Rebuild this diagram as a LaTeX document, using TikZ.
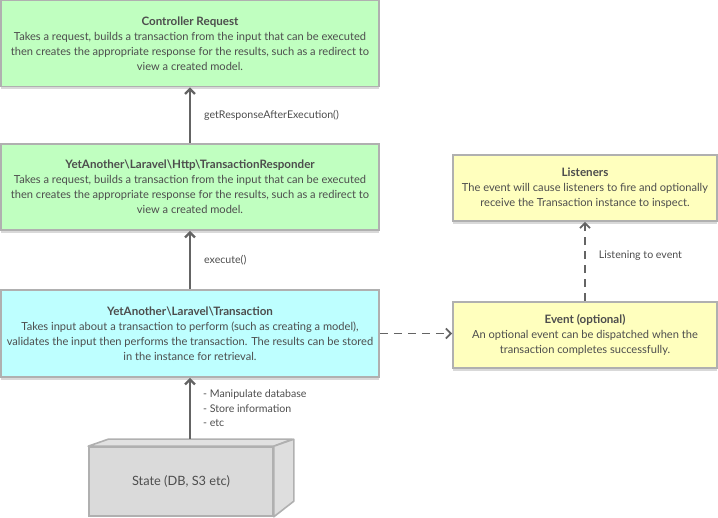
\documentclass[tikz,border=0pt]{standalone}
\usepackage{fontspec}
\setmainfont{Lato}
\usepackage{tikz}
\usetikzlibrary{arrows.meta,shadows,calc}
\definecolor{boxgreen}{RGB}{192,255,192}
\definecolor{boxcyan}{RGB}{190,255,255}
\definecolor{boxyellow}{RGB}{255,255,190}
\definecolor{boxline}{RGB}{176,176,176}
\definecolor{statefill}{RGB}{218,218,218}
\definecolor{inktext}{RGB}{77,77,77}
\definecolor{inkline}{RGB}{100,100,100}
\tikzset{
  classbox/.style={draw=boxline,line width=1.6pt,align=center,text=inktext,
    inner sep=0pt,font=\fontsize{11.1}{15}\selectfont,
    drop shadow={shadow xshift=0pt,shadow yshift=-3pt,fill=black!15,opacity=1}},
  calls/.style={->,inkline,line width=2.4pt},
  fires/.style={->,inkline,line width=1.8pt,dash pattern=on 8pt off 6pt},
  calllabel/.style={inner sep=0pt,text=inktext,font=\fontsize{10.6}{14.5}\selectfont,align=left}
}
\newcommand{\boxtitle}[1]{{\fontsize{11.6}{17.5}\selectfont\bfseries #1}}
\newcommand{\bs}{\textbackslash}

\begin{document}
\begin{tikzpicture}[x=1pt,y=-1pt,>={Straight Barb[length=5pt,width=10pt]}]
  \useasboundingbox (0,0) rectangle (718,518);
  \node[classbox,fill=boxgreen,minimum width=378,minimum height=86] (ctrl) at (190,43.5)
    {\boxtitle{Controller Request}\\
     Takes a request, builds a transaction from the input that can be executed\\
     then creates the appropriate response for the results, such as a redirect to\\
     view a created model.};
  \node[classbox,fill=boxgreen,minimum width=378,minimum height=86] (resp) at (190,187)
    {\boxtitle{YetAnother\bs Laravel\bs Http\bs TransactionResponder}\\
     Takes a request, builds a transaction from the input that can be executed\\
     then creates the appropriate response for the results, such as a redirect to\\
     view a created model.};
  \node[classbox,fill=boxcyan,minimum width=378,minimum height=87] (trans) at (190,333.5)
    {\boxtitle{YetAnother\bs Laravel\bs Transaction}\\
     Takes input about a transaction to perform (such as creating a model),\\
     validates the input then performs the transaction. The results can be stored\\
     in the instance for retrieval.};
  \node[classbox,fill=boxyellow,minimum width=264,minimum height=66] (listen) at (585,188)
    {\boxtitle{Listeners}\\
     The event will cause listeners to fire and optionally\\
     receive the Transaction instance to inspect.};
  \node[classbox,fill=boxyellow,minimum width=264,minimum height=66] (event) at (585,335)
    {\boxtitle{Event (optional)}\\
     An optional event can be dispatched when the\\
     transaction completes successfully.};

  % state block drawn as a box
  \node[draw=boxline,line width=1.6pt,fill=statefill,minimum width=184,minimum height=69,
    text=inktext,font=\fontsize{12.8}{14}\selectfont] (state) at (181,481.5) {State (DB, S3 etc)};
  \draw[boxline,line width=1.6pt,fill=statefill!80,line join=round] (state.north west) -- ++(20,-7) -- ++(184,0) -- (state.north east) -- cycle;
  \draw[boxline,line width=1.6pt,fill=statefill!90,line join=round] (state.north east) -- ++(20,-7) -- ++(0,62) -- (state.south east) -- cycle;
  \coordinate (statetop) at ($(state.north)+(9,-7)$);

  \draw[calls] (resp.north) -- (ctrl.south)
    node[midway,right=13pt,calllabel] {getResponseAfterExecution()};
  \draw[calls] (trans.north) -- (resp.south)
    node[midway,right=13pt,calllabel] {execute()};
  \draw[calls] (statetop) -- (trans.south)
    node[midway,right=12pt,calllabel] {- Manipulate database\\- Store information\\- etc};
  \draw[fires] (trans.east) -- (trans.east -| event.west);
  \draw[fires] (event.north) -- (listen.south)
    node[pos=0.58,right=13pt,calllabel] {Listening to event};
\end{tikzpicture}
\end{document}
